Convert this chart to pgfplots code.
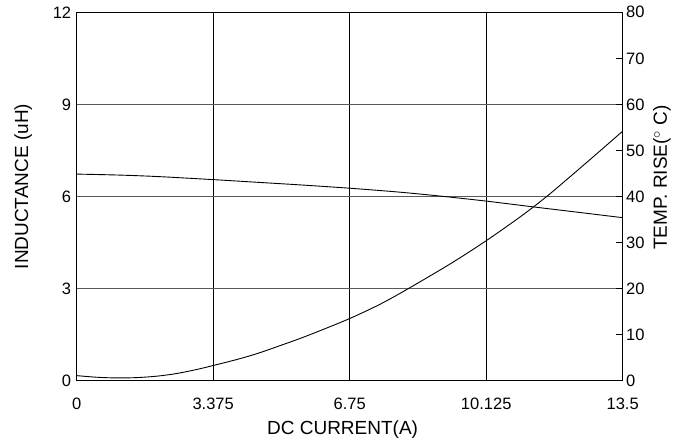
\documentclass[border=0pt]{standalone}
\usepackage{fontspec}
\setmainfont{Liberation Sans}
\usepackage{pgfplots}
\pgfplotsset{compat=1.18}
\pgfplotstableread{
x y
0 6.73
1 6.70
2 6.65
3.375 6.55
4.5 6.46
5.5 6.38
6.75 6.27
8 6.14
9.09 6.00
10.125 5.85
11.3 5.66
12.5 5.47
13.5 5.31
}\inductance
\pgfplotstableread{
x y
0 1.1
0.5 0.75
1 0.6
1.5 0.68
2 1.0
2.5 1.6
3 2.5
3.375 3.3
4 4.7
4.5 6.0
5.12 7.9
5.5 9.1
6 10.8
6.75 13.5
7.5 16.6
8.18 19.9
9.26 25.5
10.125 30.4
11 35.8
11.62 40
12.2 44.3
12.9 49.6
13.5 54.2
}\temprise
\begin{document}
\begin{tikzpicture}[x=1pt,y=1pt]
\useasboundingbox (-76.7,-59.3) rectangle (609.3,380.7);
\begin{axis}[
  at={(0,0)}, anchor=south west,
  scale only axis, width=546pt, height=368.4pt,
  xmin=0, xmax=13.5, ymin=0, ymax=12,
  xtick={0,3.375,6.75,10.125,13.5},
  xticklabels={0,3.375,6.75,10.125,13.5},
  ytick={0,3,6,9,12},
  yticklabels={0,3,6,9,12},
  major tick length=0pt,
  xmajorgrids, ymajorgrids,
  major x grid style={black, line width=0.9pt},
  major y grid style={black!65, line width=1.2pt},
  axis line style={black, line width=0.9pt},
  ticklabel style={font=\fontsize{16.5}{18}\selectfont},
  /pgf/number format/assume math mode=true,
  xticklabel style={yshift=-14pt},
  yticklabel style={xshift=-2pt},
  xlabel={DC CURRENT(A)},
  xlabel style={font=\fontsize{19}{22}\selectfont, at={(axis description cs:0.487,0)}, anchor=base, yshift=-53.6pt},
  ylabel={INDUCTANCE (uH)},
  ylabel style={font=\fontsize{19}{22}\selectfont, at={(axis description cs:-0.0978,0.527)}, anchor=center},
]
\addplot[black, line width=0.9pt, smooth] table[x=x,y=y] {\inductance};
\end{axis}
\begin{axis}[
  at={(0,0)}, anchor=south west,
  scale only axis, width=546pt, height=368.4pt,
  xmin=0, xmax=13.5, ymin=0, ymax=80,
  axis x line=none,
  axis y line*=right,
  ytick={0,10,...,80},
  tick align=inside,
  major tick length=6.7pt,
  tick style={black, line width=1pt},
  axis line style={black, line width=1.3pt},
  ticklabel style={font=\fontsize{16.5}{18}\selectfont},
  /pgf/number format/assume math mode=true,
  ylabel={TEMP. RISE(${}^{\circ}$ C)},
  ylabel style={font=\fontsize{19}{22}\selectfont, at={(axis description cs:1.072,0.5516)}, anchor=center},
]
\addplot[black, line width=0.9pt, smooth] table[x=x,y=y] {\temprise};
\end{axis}
\end{tikzpicture}
\end{document}
